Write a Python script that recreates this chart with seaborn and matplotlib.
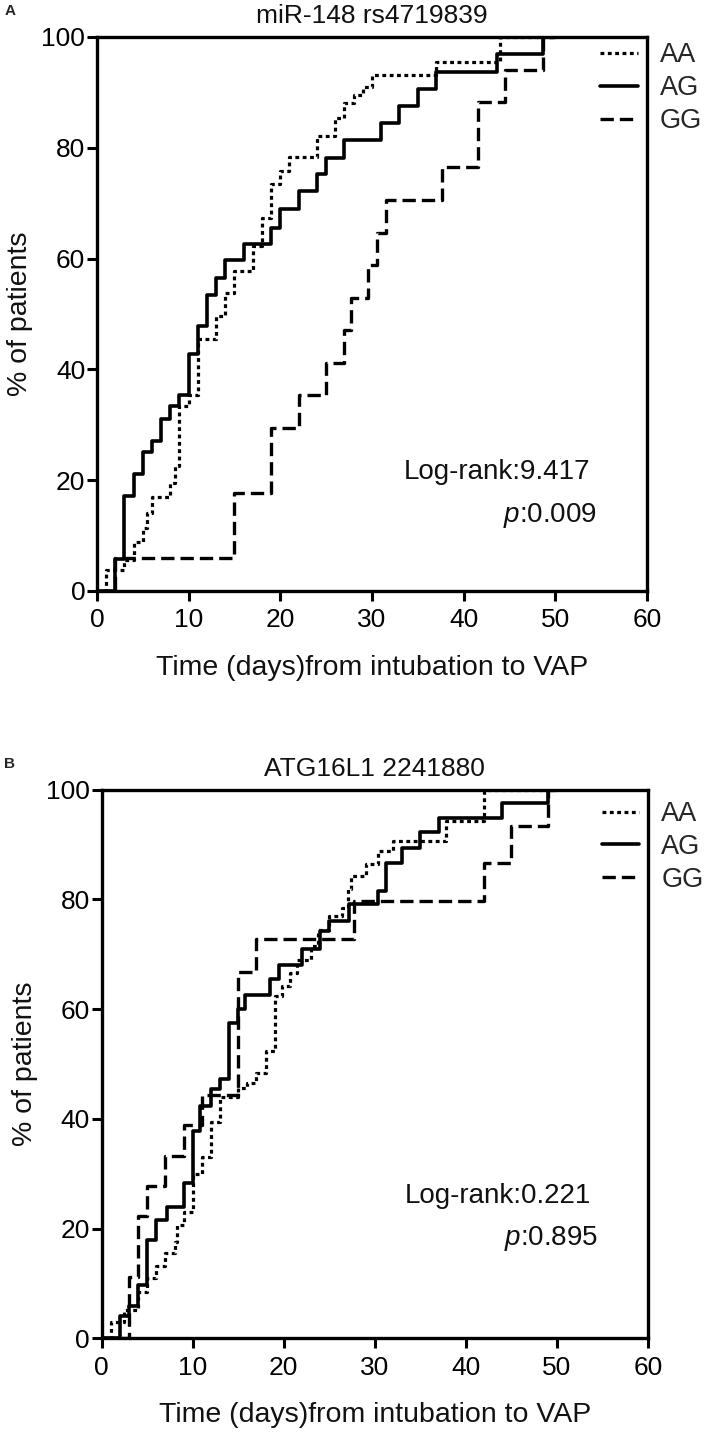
import numpy as np
import pandas as pd
import matplotlib
matplotlib.use("Agg")
import matplotlib.pyplot as plt
import seaborn as sns

# Panel A: miR-148 rs4719839 (cumulative % of patients with VAP)
a_aa_days = [0, 1, 3, 4, 5, 5.5, 6, 8, 8.5, 9, 10, 11, 13, 14, 15, 17, 18, 19, 20, 21, 24, 26, 27, 28, 29, 30, 37, 44, 50]
a_aa_pct = [0, 3.8, 5.5, 8.8, 11.3, 14, 17, 19.5, 22.5, 33.3, 35.4, 45.4, 49.6, 53.7, 57.7, 62.3, 67.4, 73.4, 75.8, 78.3, 82.2, 85.4, 88, 89.5, 91, 93.2, 95.4, 100, 100]
a_ag_days = [0, 2, 3, 4, 5, 6, 7, 8, 9, 10, 11, 12, 13, 14, 16, 19, 20, 22, 24, 25, 27, 31, 33, 35, 37, 43.6, 48.7, 50]
a_ag_pct = [0, 5.8, 17.2, 21.1, 25.1, 27.1, 31, 33.4, 35.4, 42.7, 47.8, 53.5, 56.5, 59.7, 62.7, 65.6, 68.9, 72.2, 75.2, 78.2, 81.4, 84.4, 87.6, 90.6, 93.6, 96.9, 100, 100]
a_gg_days = [0, 2, 15, 19, 22, 25, 27, 27.7, 29.6, 30.5, 31.5, 37.6, 41.6, 44.5, 48.7, 50]
a_gg_pct = [0, 5.9, 17.6, 29.4, 35.3, 41.2, 47.1, 52.9, 58.8, 64.7, 70.6, 76.5, 88.2, 94.1, 100, 100]

# Panel B: ATG16L1 2241880
b_aa_days = [0, 1, 2.5, 4, 5, 6, 7, 8, 8.3, 9, 10, 11, 12, 13, 15, 16, 17, 18, 19, 19.8, 20.7, 21.5, 23, 23.8, 25, 26.4, 27, 27.4, 29, 30.3, 32, 37.8, 42, 50]
b_aa_pct = [0, 3, 5.2, 8.5, 11, 13.2, 15.5, 17.6, 20.7, 23, 30, 33, 39.5, 44, 45.6, 46.5, 48.4, 52.3, 62.3, 64.2, 66.6, 69, 71.5, 74.5, 77, 78.5, 81.8, 84.2, 86.5, 88.8, 90.6, 94.3, 100, 100]
b_ag_days = [0, 2, 3, 4, 5, 6, 7.2, 9, 10, 10.8, 12, 13, 14, 15, 15.7, 18.5, 19.5, 22, 24, 25, 27.2, 30.3, 31.2, 33, 35, 37, 44, 49, 50]
b_ag_pct = [0, 4.0, 5.8, 9.7, 17.9, 21.6, 24.0, 28.3, 37.7, 42.4, 45.5, 47.3, 57.5, 60.1, 62.6, 65.4, 68.1, 70.9, 74.2, 76.0, 79.1, 81.5, 86.7, 89.4, 92.2, 94.9, 97.6, 100, 100]
b_gg_days = [0, 3, 4, 5, 7, 9, 11, 15, 17, 27.7, 42, 45, 49, 50]
b_gg_pct = [0, 11.1, 22.2, 27.8, 33.3, 38.9, 44.4, 66.7, 72.7, 79.7, 86.7, 93.4, 100, 100]

genotypes = ["AA", "AG", "GG"]
x_ticks = [0, 10, 20, 30, 40, 50, 60]
y_ticks = [0, 20, 40, 60, 80, 100]

panels = [
    {"letter": "A", "title": "miR-148 rs4719839", "xlabel": "Time (days)from intubation to VAP",
     "curves": [(a_aa_days, a_aa_pct), (a_ag_days, a_ag_pct), (a_gg_days, a_gg_pct)],
     "logrank": "Log-rank:9.417", "p": "0.009", "text_y": (21.4, 13.6), "leg_y": 0.995},
    {"letter": "B", "title": "ATG16L1 2241880", "xlabel": "Time (days)from intubation to VAP",
     "curves": [(b_aa_days, b_aa_pct), (b_ag_days, b_ag_pct), (b_gg_days, b_gg_pct)],
     "logrank": "Log-rank:0.221", "p": "0.895", "text_y": (26.0, 18.2), "leg_y": 0.984},
]

sns.set_theme(style="ticks")
plt.rcParams["font.family"] = ["Liberation Sans", "DejaVu Sans"]
plt.rcParams["mathtext.fontset"] = "custom"
plt.rcParams["mathtext.rm"] = "Liberation Sans"
plt.rcParams["mathtext.it"] = "Liberation Sans:italic"

styles = {
    "AA": dict(linestyle=(0, (1.2, 1.1)), linewidth=2.3),
    "AG": dict(linestyle="-", linewidth=2.6),
    "GG": dict(linestyle=(0, (4, 1.8)), linewidth=2.4),
}
txt = "#111111"

fig = plt.figure(figsize=(7.09, 14.33), dpi=100)
axes_pos = [[0.1368, 0.5876, 0.7757, 0.3866], [0.1434, 0.0661, 0.7706, 0.3829]]

for pos, panel in zip(axes_pos, panels):
    ax = fig.add_axes(pos)
    for g, (days, pct) in zip(genotypes, panel["curves"]):
        df = pd.DataFrame({"days": days, "pct": pct})
        sns.lineplot(data=df, x="days", y="pct", ax=ax, color="black",
                     drawstyle="steps-post", estimator=None, sort=False,
                     label=g, **styles[g])

    ax.set_xlim(0, 60)
    ax.set_ylim(0, 100)
    ax.set_xticks(x_ticks)
    ax.set_yticks(y_ticks)
    ax.tick_params(axis="both", direction="out", length=7.5, width=2.2,
                   labelsize=19, colors="black")
    ax.tick_params(axis="x", pad=5)
    ax.tick_params(axis="y", pad=1)
    for sp in ax.spines.values():
        sp.set_linewidth(2.4)
        sp.set_color("black")
    ax.set_xlabel(panel["xlabel"], fontsize=20.5, labelpad=16, color=txt)
    ax.set_ylabel("% of patients", fontsize=20.5, labelpad=6, color=txt)
    ax.set_title(panel["title"], fontsize=19, pad=10, color=txt)

    ty1, ty2 = panel["text_y"]
    ax.text(53.8, ty1, panel["logrank"], ha="right", va="center", fontsize=20, color=txt)
    ax.text(54.5, ty2, "$\\it{p}$:" + panel["p"], ha="right", va="center", fontsize=20, color=txt)

    ax.legend(loc="upper left", bbox_to_anchor=(0.91, panel["leg_y"]), frameon=False,
              fontsize=19.5, handlelength=1.4, handletextpad=0.8,
              labelspacing=0.25, borderaxespad=0, borderpad=0.1)

    bbox = ax.get_position()
    fig.text(0.006, bbox.y1 + 0.018, panel["letter"], fontsize=11, fontweight="bold",
             ha="left", va="center")

fig.savefig("out.png", dpi=100)
